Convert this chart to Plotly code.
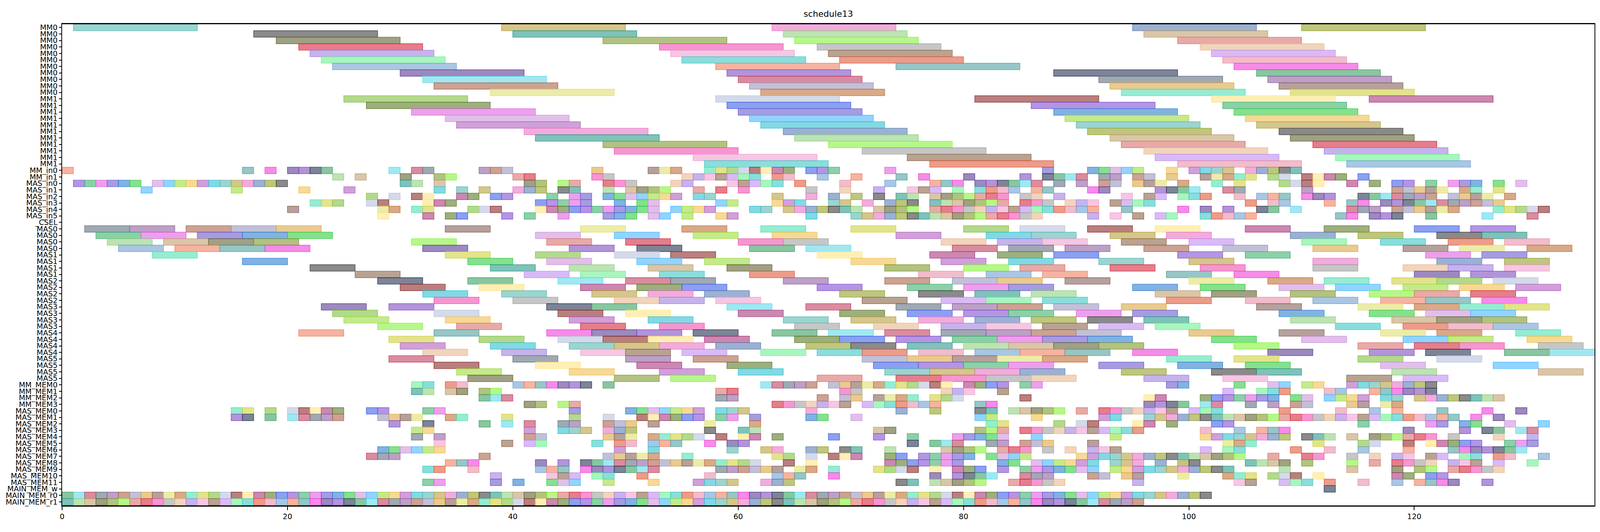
import plotly.graph_objects as go

# y tick labels, top to bottom
row_labels = [
    "MM0", "MM0", "MM0", "MM0", "MM0", "MM0", "MM0", "MM0", "MM0", "MM0", "MM0",
    "MM1", "MM1", "MM1", "MM1", "MM1", "MM1", "MM1", "MM1", "MM1", "MM1", "MM1",
    "MM_in0", "MM_in1",
    "MAS_in0", "MAS_in1", "MAS_in2", "MAS_in3", "MAS_in4", "MAS_in5",
    "_CSEL",
    "MAS0", "MAS0", "MAS0", "MAS0", "MAS1", "MAS1", "MAS1", "MAS1",
    "MAS2", "MAS2", "MAS2", "MAS2", "MAS3", "MAS3", "MAS3", "MAS3",
    "MAS4", "MAS4", "MAS4", "MAS4", "MAS5", "MAS5", "MAS5", "MAS5",
    "MM_MEM0", "MM_MEM1", "MM_MEM2", "MM_MEM3",
    "MAS_MEM0", "MAS_MEM1", "MAS_MEM2", "MAS_MEM3", "MAS_MEM4", "MAS_MEM5",
    "MAS_MEM6", "MAS_MEM7", "MAS_MEM8", "MAS_MEM9", "MAS_MEM10", "MAS_MEM11",
    "MAIN_MEM_w", "MAIN_MEM_r0", "MAIN_MEM_r1",
]

# task lengths per row group
mm_len = 11
mas_len = 4
unit_len = 1

# start times of each task, one list per row
mm_starts = [
    [1, 39, 63, 95, 110],
    [17, 40, 64, 96],
    [19, 48, 65, 99],
    [21, 53, 67, 101],
    [22, 54, 68, 102],
    [23, 55, 69, 103],
    [24, 58, 74, 104],
    [30, 59, 88, 106],
    [32, 60, 92, 107],
    [33, 61, 93, 108],
    [38, 62, 94, 109],
    [25, 58, 81, 102, 116],
    [27, 59, 86, 103],
    [31, 60, 88, 104],
    [34, 61, 89, 105],
    [35, 62, 90, 106],
    [41, 64, 91, 108],
    [42, 65, 93, 109],
    [48, 68, 94, 111],
    [49, 71, 96, 112],
    [56, 75, 97, 113],
    [57, 77, 99, 114],
]

mm_in_starts = [
    [0, 16, 18, 20, 21, 22, 23, 29, 31, 32, 37, 38, 39, 47, 52, 53, 54, 57, 58, 59, 60,
     61, 62, 63, 64, 66, 67, 68, 73, 87, 91, 92, 93, 94, 95, 98, 100, 101, 102, 103,
     105, 106, 107, 108, 109],
    [24, 26, 30, 33, 34, 40, 41, 47, 48, 55, 56, 57, 58, 59, 60, 61, 63, 64, 67, 70,
     74, 76, 80, 85, 87, 88, 89, 90, 92, 93, 95, 96, 98, 101, 102, 103, 104, 105, 107,
     108, 110, 111, 112, 113, 115],
]

mas_in_starts = [
    [1, 2, 3, 4, 5, 6, 8, 9, 10, 11, 12, 13, 14, 15, 16, 17, 18, 19, 30, 31, 33, 41,
     42, 44, 45, 48, 49, 50, 54, 55, 59, 60, 61, 62, 63, 65, 69, 73, 77, 78, 79, 81,
     82, 83, 84, 85, 86, 88, 90, 92, 93, 95, 96, 97, 99, 102, 104, 108, 109, 110, 111,
     114, 116, 118, 119, 121, 123, 124, 125, 127, 129],
    [7, 15, 21, 25, 33, 35, 37, 40, 41, 42, 44, 45, 48, 50, 51, 52, 53, 56, 58, 60, 66,
     69, 72, 75, 76, 77, 79, 81, 82, 83, 84, 86, 87, 91, 92, 97, 98, 99, 100, 103, 104,
     110, 118, 119, 120, 121, 122, 124, 125, 127],
    [27, 29, 31, 32, 35, 36, 38, 39, 43, 45, 46, 48, 49, 50, 51, 52, 53, 54, 56, 57, 63,
     66, 68, 70, 72, 74, 75, 77, 78, 79, 80, 81, 82, 83, 85, 86, 88, 94, 96, 97, 99,
     100, 101, 104, 106, 107, 108, 110, 111, 112, 115, 116, 117, 118, 119, 120, 121,
     123, 124, 125, 126, 128],
    [22, 23, 24, 27, 28, 32, 33, 34, 42, 43, 44, 45, 46, 49, 51, 52, 58, 59, 63, 64, 65,
     68, 69, 71, 73, 74, 75, 77, 78, 79, 80, 81, 82, 83, 85, 86, 87, 89, 90, 91, 93, 94,
     95, 96, 105, 107, 108, 112, 114, 115, 117, 118, 119, 120, 121, 122, 123, 124, 125,
     126, 127],
    [20, 28, 29, 31, 32, 36, 37, 38, 42, 43, 44, 45, 46, 47, 48, 49, 50, 51, 52, 54, 55,
     56, 57, 61, 62, 64, 65, 66, 67, 68, 69, 70, 72, 73, 74, 75, 77, 78, 79, 80, 81, 82,
     83, 84, 85, 86, 87, 88, 89, 90, 91, 94, 99, 101, 103, 106, 107, 109, 114, 115, 116,
     118, 119, 120, 121, 122, 123, 127, 128, 129, 130, 131],
    [28, 32, 34, 35, 39, 41, 44, 48, 49, 50, 52, 53, 55, 58, 59, 66, 70, 71, 72, 73, 74,
     75, 76, 77, 78, 79, 80, 81, 82, 83, 84, 85, 86, 91, 93, 95, 97, 98, 101, 102, 103,
     104, 105, 113, 114, 116, 117, 118, 121, 126, 130],
]

csel_starts = []

mas_starts = [
    [2, 6, 11, 15, 19, 34, 46, 55, 62, 70, 80, 85, 91, 97, 105, 112, 120, 125],
    [3, 7, 12, 16, 20, 42, 49, 56, 63, 74, 82, 86, 93, 98, 109, 115, 122, 126],
    [4, 9, 13, 17, 31, 43, 50, 60, 64, 78, 83, 87, 94, 100, 110, 117, 123, 128],
    [5, 10, 14, 18, 32, 45, 51, 61, 66, 79, 84, 89, 96, 103, 111, 119, 124, 130],
    [8, 34, 42, 49, 54, 67, 77, 83, 88, 99, 105, 121, 126],
    [16, 36, 43, 51, 57, 70, 78, 84, 92, 100, 111, 122, 128],
    [22, 38, 45, 52, 59, 73, 80, 85, 93, 101, 111, 119, 123, 128],
    [26, 41, 46, 53, 61, 76, 82, 87, 98, 104, 120, 125],
    [28, 36, 44, 50, 54, 64, 73, 79, 83, 89, 100, 107, 112, 118, 122, 127],
    [30, 37, 46, 51, 55, 67, 75, 80, 84, 95, 101, 108, 113, 119, 124, 129],
    [32, 39, 47, 52, 57, 69, 76, 81, 86, 97, 102, 109, 116, 120, 125],
    [33, 40, 49, 53, 58, 71, 78, 82, 87, 98, 105, 111, 117, 121, 126],
    [23, 29, 43, 47, 59, 66, 74, 79, 83, 88, 94, 106, 115, 120, 124, 128],
    [24, 33, 44, 50, 60, 69, 75, 80, 84, 90, 95, 108, 116, 121, 125],
    [25, 34, 45, 52, 64, 70, 76, 81, 86, 91, 96, 109, 118, 122, 126],
    [28, 35, 46, 53, 65, 72, 78, 82, 87, 92, 97, 113, 119, 123, 127],
    [21, 33, 43, 47, 51, 56, 63, 68, 73, 78, 82, 86, 90, 100, 108, 117, 122, 129],
    [29, 37, 44, 48, 52, 57, 65, 69, 74, 79, 83, 87, 91, 102, 110, 119, 123, 130],
    [30, 38, 45, 49, 53, 58, 66, 70, 75, 80, 84, 88, 92, 104, 115, 120, 124, 131],
    [32, 39, 46, 50, 55, 62, 67, 71, 76, 81, 85, 89, 95, 107, 116, 121, 128, 132],
    [29, 40, 50, 56, 71, 75, 79, 83, 87, 98, 104, 115, 122],
    [33, 42, 51, 59, 72, 76, 80, 84, 92, 99, 105, 117, 127],
    [35, 45, 53, 60, 73, 77, 81, 85, 94, 102, 106, 118, 131],
    [36, 49, 54, 67, 74, 78, 82, 86, 96, 103, 114, 119],
]

mm_mem_starts = [
    [31, 32, 34, 35, 40, 41, 42, 43, 44, 45, 46, 48, 62, 63, 64, 65, 66, 68, 69, 70, 71,
     72, 73, 74, 75, 76, 77, 78, 80, 81, 82, 83, 85, 86, 98, 99, 104, 107, 108, 110,
     111, 114, 115, 116, 117, 118, 119, 120, 121],
    [31, 32, 34, 35, 37, 38, 58, 59, 69, 70, 78, 79, 80, 83, 103, 106, 107, 108, 112,
     113, 116, 117, 118, 119, 120, 121],
    [37, 38, 39, 58, 59, 67, 69, 70, 72, 73, 74, 75, 77, 78, 79, 85, 96, 97, 101, 102,
     103, 104, 105, 106, 107, 109, 110, 112, 113, 114, 115, 117, 118, 120, 121, 122,
     123, 124, 125, 126, 127],
    [41, 42, 44, 45, 63, 64, 65, 66, 67, 68, 69, 71, 72, 73, 74, 75, 76, 77, 81, 82, 96,
     97, 98, 99, 101, 102, 105, 107, 109, 110, 114, 115, 117, 118],
]

mas_mem_starts = [
    [15, 16, 18, 20, 21, 22, 23, 24, 27, 28, 32, 33, 45, 50, 51, 52, 53, 54, 55, 56, 58,
     59, 60, 66, 74, 77, 81, 82, 84, 85, 86, 87, 88, 90, 92, 93, 94, 95, 96, 97, 98,
     100, 101, 102, 108, 113, 116, 118, 122, 126, 129],
    [15, 16, 18, 20, 21, 22, 23, 24, 28, 29, 30, 31, 34, 35, 39, 45, 48, 51, 52, 53, 54,
     55, 56, 58, 59, 61, 66, 67, 70, 81, 82, 86, 92, 93, 96, 97, 98, 99, 100, 101, 102,
     103, 104, 105, 106, 107, 108, 109, 110, 111, 112, 113, 114, 115, 116, 117, 118,
     119, 120, 121, 122, 123, 125, 127],
    [29, 32, 37, 39, 41, 44, 45, 48, 49, 50, 52, 57, 61, 82, 83, 88, 90, 91, 95, 96, 98,
     102, 103, 115, 121, 122, 124, 125, 128, 131],
    [31, 32, 41, 44, 45, 46, 48, 49, 50, 57, 60, 61, 72, 73, 81, 82, 83, 85, 86, 87, 88,
     89, 90, 91, 92, 93, 94, 95, 101, 104, 106, 107, 108, 119, 124, 126, 127, 129, 130],
    [31, 33, 41, 42, 48, 49, 50, 52, 53, 54, 55, 56, 58, 60, 61, 63, 68, 72, 75, 79, 80,
     81, 82, 83, 86, 93, 101, 102, 103, 104, 105, 106, 107, 108, 110, 111, 112, 114,
     116, 117, 118, 119, 120, 121, 123, 127, 130],
    [33, 39, 41, 42, 47, 49, 50, 52, 53, 54, 57, 59, 60, 75, 77, 78, 79, 82, 83, 85, 86,
     87, 91, 103, 104, 105, 111, 115, 116, 119, 121, 122, 123, 124, 125, 128, 129, 130],
    [28, 29, 30, 31, 32, 33, 49, 52, 59, 62, 63, 66, 67, 69, 70, 73, 78, 79, 80, 81, 83,
     84, 85, 87, 89, 91, 92, 93, 101, 103, 104, 109, 112, 115, 119, 123, 124, 125, 126,
     127, 128, 129],
    [27, 28, 29, 37, 48, 49, 50, 51, 52, 55, 63, 64, 66, 68, 69, 70, 73, 74, 76, 77, 78,
     79, 80, 82, 83, 84, 85, 90, 91, 92, 93, 94, 95, 96, 97, 98, 99, 100, 101, 102, 103,
     104, 107, 110, 111, 114, 116, 118, 119, 121, 122, 124, 125, 127, 128, 131],
    [34, 35, 36, 42, 44, 46, 47, 48, 49, 50, 51, 52, 53, 54, 55, 56, 57, 58, 59, 60, 61,
     64, 66, 73, 74, 75, 76, 77, 78, 79, 83, 84, 86, 87, 88, 89, 90, 91, 93, 94, 95, 97,
     99, 100, 105, 106, 107, 108, 110, 114, 116, 118, 119, 120, 121, 123, 124, 125, 127,
     130],
    [32, 33, 36, 42, 43, 44, 46, 47, 48, 49, 50, 51, 52, 58, 59, 60, 61, 62, 63, 65, 66,
     68, 72, 73, 74, 75, 77, 79, 80, 81, 83, 85, 86, 87, 88, 89, 90, 91, 93, 94, 95, 96,
     97, 98, 99, 100, 101, 102, 103, 108, 114, 118, 120, 121, 123, 124, 125, 126, 127],
    [38, 43, 44, 45, 47, 48, 51, 57, 63, 64, 65, 68, 77, 79, 80, 81, 82, 85, 86, 87, 91,
     92, 94, 95, 99, 103, 104, 105, 107, 108, 109, 111, 118, 119, 121, 122],
    [32, 33, 38, 40, 43, 44, 45, 48, 52, 56, 57, 58, 59, 62, 63, 64, 74, 75, 77, 78, 79,
     80, 81, 84, 85, 86, 87, 88, 95, 104, 105, 108, 109, 110, 112, 115, 118, 120, 121,
     122, 123, 126],
]

main_mem_starts = [
    [112],
    [0, 1, 2, 3, 4, 5, 6, 7, 8, 9, 10, 11, 12, 13, 14, 15, 16, 17, 18, 19, 20, 21, 22,
     23, 24, 25, 26, 27, 28, 29, 30, 31, 32, 33, 34, 35, 36, 37, 38, 39, 40, 41, 42, 43,
     44, 45, 46, 47, 48, 49, 50, 51, 52, 53, 54, 55, 56, 57, 58, 59, 60, 61, 62, 63, 64,
     65, 66, 67, 68, 69, 70, 71, 72, 73, 74, 75, 76, 77, 78, 79, 80, 81, 82, 83, 84, 85,
     86, 87, 88, 89, 90, 91, 92, 93, 94, 95, 96, 97, 98, 99, 100, 101],
    [0, 1, 2, 3, 4, 5, 6, 7, 8, 9, 10, 11, 12, 13, 14, 15, 16, 17, 18, 19, 20, 21, 22,
     23, 24, 25, 26, 27, 28, 29, 30, 31, 32, 33, 34, 35, 36, 37, 38, 39, 40, 41, 42, 43,
     44, 45, 46, 47, 48, 49, 50, 51, 52, 53, 54, 55, 56, 57, 58, 59, 60, 61, 62, 63, 64,
     65, 66, 67, 68, 69, 70, 71, 72, 73, 74, 75, 76, 77, 78, 79, 80, 81, 82, 83, 84, 85,
     86, 87, 88, 89, 90, 91, 92, 93, 94, 95],
]

x_ticks = [0, 20, 40, 60, 80, 100, 120]

# bar colours (each task gets the next one)
palette = [
    "#59b8b0", "#6a5acd", "#b8c2dc", "#a8644c", "#f03ed8", "#8a6448", "#7f9a2c", "#b8a040",
    "#2f7fd0", "#8a2a2a", "#9a96bc", "#5a3a92", "#c08cf0", "#86f23a", "#e874c4", "#33cc44",
    "#fde485", "#dba646", "#7e4cc0", "#6cf092", "#d8726a", "#5a7db4", "#cd94dc", "#a8387c",
    "#85605a", "#263252", "#3ac8c4", "#d4283e", "#92a02a", "#48b8ff", "#5c7a28", "#e0e070",
    "#3aa060", "#e05a3a", "#f050b0", "#3c3c3c", "#9cdc40", "#4060e8", "#c07038", "#60d8e8",
    "#e890a8", "#a0a0a0", "#2a9a8a", "#f0c050", "#8050d0", "#50e0b0", "#c04060", "#70a0d0",
    "#e8b890", "#90d080", "#b060c0", "#40b070", "#d0d040", "#607080", "#f08060", "#a080e0",
    "#c0a070", "#30c0d0", "#e060e0", "#80c040", "#9060a0", "#50a0a0", "#f0a0d0", "#606030",
]


def rgba(hex_color, a):
    h = hex_color.lstrip("#")
    return "rgba(%d,%d,%d,%.2f)" % (int(h[0:2], 16), int(h[2:4], 16), int(h[4:6], 16), a)


groups = [
    (mm_starts, mm_len),
    (mm_in_starts, unit_len),
    (mas_in_starts, unit_len),
    ([csel_starts], unit_len),
    (mas_starts, mas_len),
    (mm_mem_starts, unit_len),
    (mas_mem_starts, unit_len),
    (main_mem_starts, unit_len),
]

ys, bases, lens, fills, edges = [], [], [], [], []
row = 0
k = 0
for starts_list, length in groups:
    for starts in starts_list:
        for s in starts:
            c = palette[(k * 7) % len(palette)]
            ys.append(row)
            bases.append(s)
            lens.append(length)
            fills.append(rgba(c, 0.6))
            edges.append(rgba(c, 0.8))
            k += 1
        row += 1

fig = go.Figure(go.Bar(
    orientation="h",
    y=ys,
    x=lens,
    base=bases,
    width=1.0,
    marker=dict(color=fills, line=dict(color=edges, width=1.6)),
    hoverinfo="skip",
))

# the browser viewport is 4096 css px wide, so the horizontal sizes are scaled down
fig.update_layout(
    width=4096,
    height=1362,
    margin=dict(l=159, r=14, t=62, b=68),
    paper_bgcolor="white",
    plot_bgcolor="white",
    barmode="overlay",
    showlegend=False,
    title=dict(text="schedule13", x=0.5, xref="paper", xanchor="center",
               y=1 - 35 / 1362, yref="container", yanchor="middle",
               font=dict(family="DejaVu Sans", size=22, color="black")),
    xaxis=dict(range=[0, 136], tickvals=x_ticks, ticks="outside", ticklen=9, tickwidth=1.5,
               tickcolor="black", showline=True, linecolor="black", linewidth=2.5,
               mirror=True, showgrid=False, zeroline=False,
               tickfont=dict(family="DejaVu Sans", size=19, color="black")),
    yaxis=dict(range=[73.55, -0.5], tickvals=list(range(len(row_labels))),
               ticktext=row_labels, ticks="outside", ticklen=6, tickwidth=2,
               tickcolor="black", showline=True, linecolor="black", linewidth=1.7,
               mirror=True, showgrid=False, zeroline=False,
               tickfont=dict(family="DejaVu Sans", size=19, color="black")),
)

post = "document.body.style.margin = '0';"
fig.write_html("out.html", config={"displayModeBar": False}, post_script=post)
